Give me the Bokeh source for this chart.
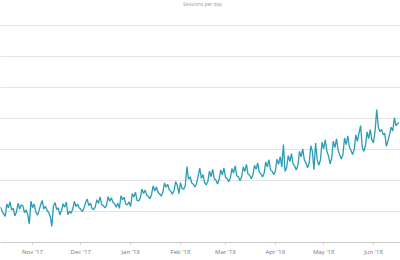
from datetime import datetime, timedelta
from bokeh.plotting import figure
from bokeh.models import ColumnDataSource, Range1d, FixedTicker, MonthsTicker, DatetimeTickFormatter, Label
from bokeh.embed import file_html
from bokeh.resources import INLINE

start_date = datetime(2017, 10, 12)
sessions = [
    1.15, 1.02,
    0.92, 0.84, 1.24, 1.12, 1.31, 1.05, 1.10,
    0.86, 0.98, 1.27, 1.08, 1.22, 1.18, 0.96,
    1.05, 0.90, 0.60, 1.33, 1.12, 1.24, 0.99,
    0.88, 1.02, 1.21, 1.36, 1.08, 1.17, 1.04,
    0.97, 0.85, 0.52, 1.18, 1.29, 1.06, 1.12,
    0.89, 1.03, 1.25, 1.14, 1.30, 0.90, 1.01,
    0.94, 1.08, 1.33, 1.16, 1.24, 1.12, 1.07,
    1.00, 1.11, 1.29, 1.40, 1.19, 1.27, 1.09,
    1.06, 1.15, 1.38, 1.26, 1.47, 1.22, 1.19,
    1.12, 1.20, 1.48, 1.33, 1.44, 1.30, 1.25,
    1.14, 1.27, 1.10, 1.51, 1.38, 1.46, 1.23,
    1.22, 1.31, 1.16, 1.58, 1.47, 1.62, 1.36,
    1.34, 1.44, 1.72, 1.58, 1.69, 1.52, 1.49,
    1.41, 1.55, 1.83, 1.66, 1.79, 1.62, 1.57,
    1.50, 1.61, 1.92, 1.78, 1.88, 1.70, 1.65,
    1.56, 1.68, 1.96, 1.85, 1.58, 1.93, 1.74,
    1.72, 1.84, 2.45, 2.04, 2.12, 1.92, 1.88,
    1.79, 1.91, 2.16, 2.40, 2.07, 2.19, 1.93,
    1.86, 1.97, 2.30, 2.12, 2.36, 2.05, 2.02,
    1.89, 2.03, 2.34, 2.18, 2.41, 2.10, 2.06,
    1.96, 2.08, 2.39, 2.24, 2.47, 2.15, 2.12,
    1.99, 2.11, 2.44, 2.29, 2.52, 2.20, 2.17,
    2.06, 2.18, 2.49, 2.36, 2.57, 2.27, 2.22,
    2.11, 2.24, 2.60, 2.43, 2.67, 2.33, 2.30,
    2.19, 2.31, 2.69, 2.52, 2.77, 2.44, 3.16,
    2.29, 2.42, 2.80, 2.61, 2.87, 2.53, 2.47,
    2.34, 2.50, 2.94, 2.76, 3.02, 2.66, 2.57,
    2.41, 2.56, 3.12, 2.93, 2.35, 3.21, 2.68,
    2.49, 2.66, 3.24, 3.02, 3.31, 2.95, 2.80,
    2.54, 2.71, 3.27, 3.06, 3.34, 2.98, 2.82,
    2.69, 2.84, 3.37, 3.16, 3.44, 3.09, 2.97,
    2.84, 2.99, 3.47, 3.26, 3.54, 3.77, 3.07,
    2.94, 3.12, 3.57, 3.35, 3.64, 3.30, 3.22,
    3.60, 4.29, 3.72, 3.58, 3.65, 3.48, 3.52,
    3.10, 3.28, 3.48, 3.72, 3.60, 4.02, 3.76,
    3.84, 3.87,
]
dates = [start_date + timedelta(days=i) for i in range(len(sessions))]
grid_values = [1, 2, 3, 4, 5, 6, 7]
title_text = "Sessions per day"

source = ColumnDataSource(data=dict(date=dates, sessions=sessions))

p = figure(width=400, height=260, x_axis_type="datetime",
           output_backend="svg", toolbar_location=None,
           x_range=Range1d(datetime(2017, 10, 12, 2), datetime(2018, 6, 17, 19)),
           y_range=Range1d(0, 7.806),
           min_border_left=0, min_border_right=0, min_border_top=0, min_border_bottom=18)
p.outline_line_color = None
p.background_fill_color = "white"
p.border_fill_color = "white"

p.line("date", "sessions", source=source, line_color="#2a9db5", line_width=1.3)

p.yaxis.visible = False
p.xgrid.grid_line_color = None
p.ygrid.ticker = FixedTicker(ticks=grid_values)
p.ygrid.grid_line_color = "#e4e4e4"
p.ygrid.grid_line_width = 1

p.xaxis.ticker = MonthsTicker(months=list(range(1, 13)))
p.xaxis.formatter = DatetimeTickFormatter(months="%b '%y", days="%b '%y")
p.xaxis.axis_line_color = "#cccccc"
p.xaxis.major_tick_line_color = "#cccccc"
p.xaxis.major_tick_out = 2
p.xaxis.major_tick_in = 0
p.xaxis.minor_tick_line_color = None
p.xaxis.major_label_text_font = "Open Sans"
p.xaxis.major_label_text_font_size = "6px"
p.xaxis.major_label_text_color = "#777777"
p.xaxis.major_label_standoff = 3

p.add_layout(Label(x=202, y=242, x_units="screen", y_units="screen", text=title_text,
                   text_font="Open Sans", text_font_size="5px", text_color="#999999",
                   text_align="center", text_baseline="top"))

open("out.html", "w").write(file_html(p, INLINE))
